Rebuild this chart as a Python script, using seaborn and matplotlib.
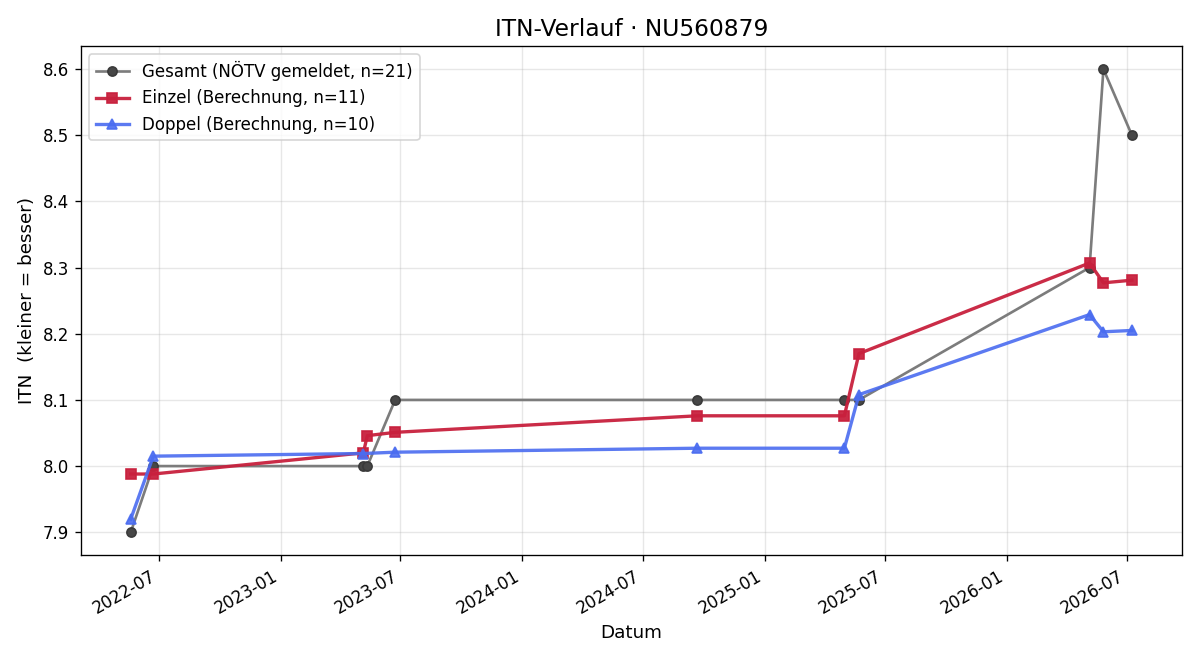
import matplotlib
matplotlib.use("Agg")
import matplotlib.pyplot as plt
import matplotlib.dates as mdates
import numpy as np
import pandas as pd
import seaborn as sns

# values
gesamt_dates = ["2022-05-20", "2022-06-23", "2023-05-06", "2023-05-12", "2023-06-23",
                "2024-09-21", "2025-05-01", "2025-05-23", "2026-05-06", "2026-05-27",
                "2026-07-09"]
gesamt_itn = [7.9, 8.0, 8.0, 8.0, 8.1, 8.1, 8.1, 8.1, 8.3, 8.6, 8.5]

einzel_dates = gesamt_dates
einzel_itn = [7.988, 7.988, 8.020, 8.046, 8.051, 8.076, 8.076, 8.170, 8.307, 8.277, 8.281]

doppel_dates = ["2022-05-20", "2022-06-23", "2023-05-06", "2023-06-23", "2024-09-21",
                "2025-05-01", "2025-05-23", "2026-05-06", "2026-05-27", "2026-07-09"]
doppel_itn = [7.920, 8.015, 8.019, 8.021, 8.027, 8.027, 8.108, 8.229, 8.203, 8.205]

gesamt = pd.DataFrame({"Datum": pd.to_datetime(gesamt_dates), "ITN": gesamt_itn})
einzel = pd.DataFrame({"Datum": pd.to_datetime(einzel_dates), "ITN": einzel_itn})
doppel = pd.DataFrame({"Datum": pd.to_datetime(doppel_dates), "ITN": doppel_itn})

fig, ax = plt.subplots(figsize=(10, 5.5), dpi=120)

sns.lineplot(data=gesamt, x="Datum", y="ITN", ax=ax, sort=False,
             color="#7c7c7c", linewidth=1.6, marker="o", markersize=5.5,
             markerfacecolor="#474747", markeredgecolor="#3a3a3a",
             markeredgewidth=1, label="Gesamt (NÖTV gemeldet, n=21)")
sns.lineplot(data=einzel, x="Datum", y="ITN", ax=ax, sort=False,
             color="#c8203d", alpha=0.95, linewidth=2, marker="s",
             markersize=6, markeredgecolor="#c8203d", markeredgewidth=1,
             label="Einzel (Berechnung, n=11)")
sns.lineplot(data=doppel, x="Datum", y="ITN", ax=ax, sort=False,
             color="#4a6cf0", alpha=0.9, linewidth=2, marker="^",
             markersize=6, markeredgecolor="#4a6cf0", markeredgewidth=1,
             label="Doppel (Berechnung, n=10)")

ax.set_title("ITN-Verlauf · NU560879", fontsize=14)
ax.set_xlabel("Datum", fontsize=11)
ax.set_ylabel("ITN  (kleiner = besser)", fontsize=11)
ax.grid(True, alpha=0.3)
ax.xaxis.set_major_locator(mdates.MonthLocator(bymonth=[1, 7]))
ax.xaxis.set_major_formatter(mdates.DateFormatter("%Y-%m"))
ax.legend(loc="upper left")
fig.autofmt_xdate()
fig.tight_layout()
fig.savefig("out.png")
